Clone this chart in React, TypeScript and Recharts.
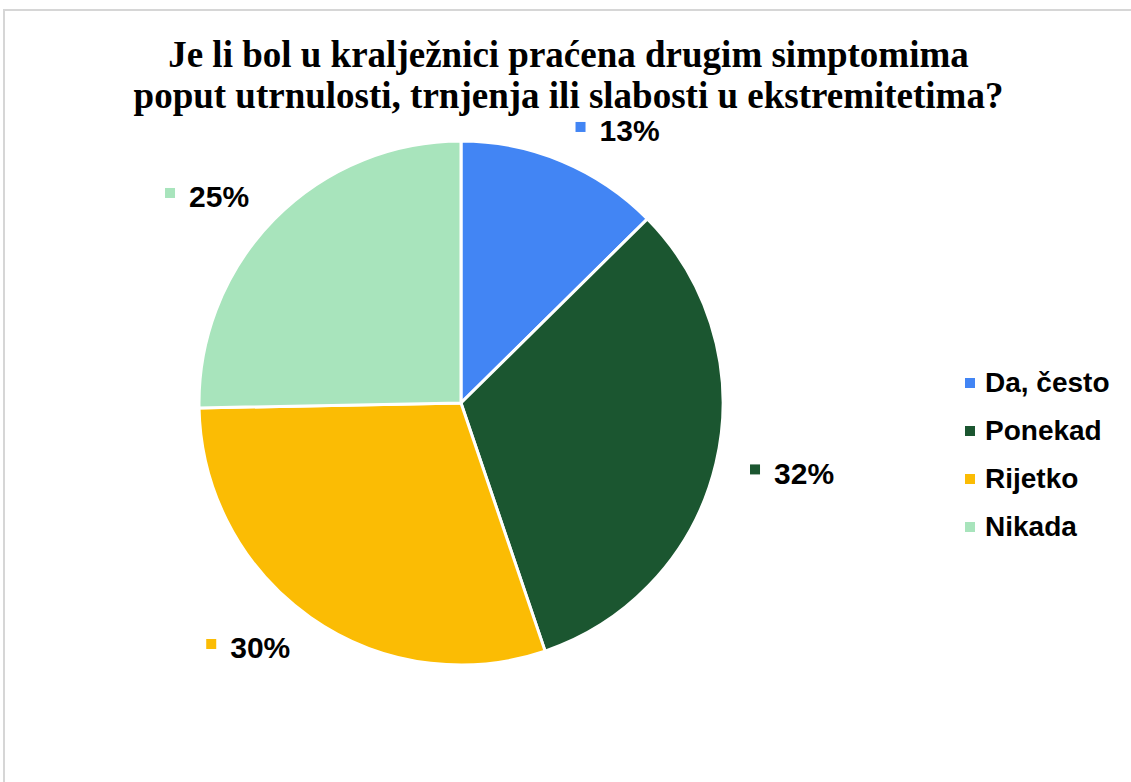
import React from "react";
import { PieChart, Pie, Cell, Legend } from "recharts";

const categories = ["Da, često", "Ponekad", "Rijetko", "Nikada"];
const values = [12.6, 32.2, 29.9, 25.3];
const colors = ["#4285F4", "#1B5630", "#FBBC04", "#A8E4BC"];
const title = [
  "Je li bol u kralježnici praćena drugim simptomima",
  "poput utrnulosti, trnjenja ili slabosti u ekstremitetima?",
];

const data = categories.map((name, i) => ({ name, value: values[i] }));
const RAD = Math.PI / 180;
const LABEL_W = 84;

const renderLabel = (props: any) => {
  const { cx, cy, midAngle, outerRadius, index, value } = props;
  const r = outerRadius + 35;
  const cos = Math.cos(-midAngle * RAD);
  const px = cx + r * cos;
  const py = cy + r * Math.sin(-midAngle * RAD);
  const left = cos >= 0 ? px : px - LABEL_W;
  return (
    <g>
      <rect x={left} y={py - 7} width={10} height={10} fill={colors[index]} />
      <text
        x={left + 24}
        y={py + 2}
        textAnchor="start"
        dominantBaseline="central"
        fontFamily="'Liberation Sans', Arial, sans-serif"
        fontWeight="bold"
        fontSize={30}
        fill="#000"
      >
        {Math.round(value)}%
      </text>
    </g>
  );
};

const renderLegend = () => (
  <div>
    {categories.map((c, i) => (
      <div
        key={c}
        style={{
          display: "flex",
          alignItems: "center",
          height: 48,
          fontFamily: "'Liberation Sans', Arial, sans-serif",
          fontWeight: "bold",
          fontSize: 28,
          color: "#000",
          whiteSpace: "nowrap",
        }}
      >
        <span
          style={{
            display: "inline-block",
            width: 10,
            height: 10,
            background: colors[i],
            marginRight: 10,
          }}
        />
        {c}
      </div>
    ))}
  </div>
);

export default function App() {
  return (
    <div
      style={{
        position: "relative",
        margin: -8,
        width: 1131,
        height: 782,
        overflow: "hidden",
        background: "#fff",
      }}
    >
      <div
        style={{
          position: "absolute",
          left: 0,
          top: 34,
          width: 1137,
          textAlign: "center",
          fontFamily: "'Liberation Serif', 'Times New Roman', serif",
          fontWeight: "bold",
          fontSize: 37,
          lineHeight: "41px",
          color: "#000",
          zIndex: 2,
        }}
      >
        {title.map((t) => (
          <div key={t}>{t}</div>
        ))}
      </div>
      <div style={{ position: "absolute", left: 0, top: 0 }}>
        <PieChart width={1131} height={782} margin={{ top: 0, right: 0, bottom: 0, left: 0 }}>
          <Pie
            data={data}
            dataKey="value"
            nameKey="name"
            cx={461}
            cy={403}
            outerRadius={262}
            startAngle={90}
            endAngle={-270}
            stroke="#fff"
            strokeWidth={3}
            label={renderLabel}
            labelLine={false}
            isAnimationActive={false}
          >
            {data.map((d, i) => (
              <Cell key={d.name} fill={colors[i]} />
            ))}
          </Pie>
          <Legend
            content={renderLegend}
            wrapperStyle={{ position: "absolute", left: 965, top: 359, width: 170 }}
          />
        </PieChart>
      </div>
      <div
        style={{
          position: "fixed",
          left: 3,
          top: 9,
          width: 1128,
          height: 2,
          background: "#d6d6d6",
          zIndex: 5,
        }}
      />
      <div
        style={{
          position: "fixed",
          left: 3,
          top: 9,
          width: 2,
          height: 773,
          background: "#d6d6d6",
          zIndex: 5,
        }}
      />
    </div>
  );
}
